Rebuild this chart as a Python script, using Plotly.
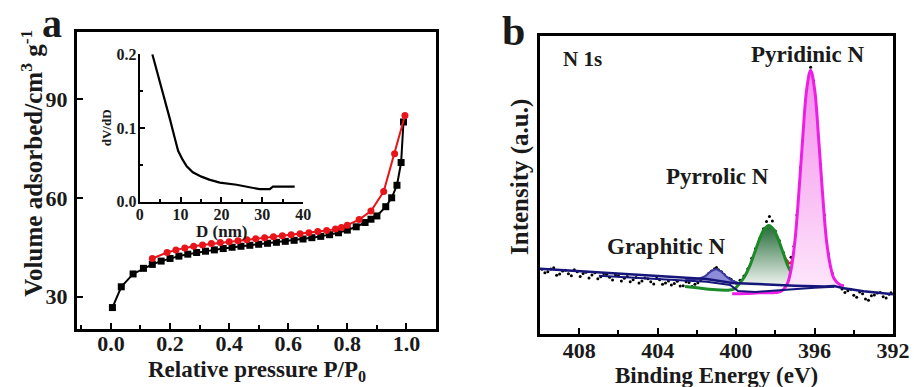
import plotly.graph_objects as go

# ---------------- Panel a: N2 isotherm ----------------
ads_p = [0.005, 0.035, 0.075, 0.11, 0.14, 0.17, 0.20, 0.23, 0.26, 0.29, 0.32, 0.35, 0.38, 0.41,
         0.44, 0.47, 0.50, 0.53, 0.56, 0.59, 0.62, 0.65, 0.68, 0.71, 0.74, 0.77, 0.80, 0.83,
         0.86, 0.88, 0.90, 0.93, 0.95, 0.968, 0.982, 0.99]
ads_v = [26.7, 33.0, 36.9, 38.6, 39.8, 40.8, 41.6, 42.3, 42.9, 43.4, 43.8, 44.2, 44.6, 45.0,
         45.3, 45.6, 45.9, 46.2, 46.5, 46.8, 47.1, 47.5, 47.9, 48.3, 48.8, 49.4, 50.2, 51.2,
         52.5, 53.5, 54.5, 57.3, 60.0, 63.8, 70.7, 83.0]
des_p = [0.995, 0.96, 0.923, 0.88, 0.84, 0.80, 0.78, 0.76, 0.73, 0.70, 0.67, 0.64, 0.61, 0.58,
         0.55, 0.52, 0.49, 0.46, 0.43, 0.40, 0.37, 0.34, 0.31, 0.28, 0.25, 0.22, 0.19, 0.14]
des_v = [85.0, 73.4, 61.9, 56.0, 53.4, 51.7, 51.0, 50.5, 50.1, 49.8, 49.4, 49.1, 48.8, 48.5,
         48.2, 47.9, 47.6, 47.3, 47.0, 46.7, 46.4, 46.1, 45.7, 45.3, 44.8, 44.2, 43.4, 41.6]

# inset: pore size distribution
psd_d = [3.1, 4.5, 5.8, 7.4, 8.5, 9.4, 10.5, 11.5, 13.0, 15.1, 17.0, 19.6, 23.7, 27.0, 29.3, 31.8, 32.6, 35.0, 37.9]
psd_v = [0.200, 0.172, 0.144, 0.112, 0.088, 0.069, 0.057, 0.048, 0.040, 0.034, 0.030, 0.026, 0.023, 0.020,
         0.017, 0.017, 0.0206, 0.0206, 0.0206]

# ---------------- Panel b: N 1s XPS ----------------
raw_be = [409.9, 409.75, 409.6, 409.45, 409.3, 409.15, 409.0, 408.85, 408.7, 408.55, 408.4, 408.25,
          408.1, 407.95, 407.8, 407.65, 407.5, 407.35, 407.2, 407.05, 406.9, 406.75, 406.6, 406.45,
          406.3, 406.15, 406.0, 405.85, 405.7, 405.55, 405.4, 405.25, 405.1, 404.95, 404.8, 404.65,
          404.5, 404.35, 404.2, 404.05, 403.9, 403.75, 403.6, 403.45, 403.3, 403.15, 403.0, 402.85,
          402.7, 402.55, 402.4, 402.25, 402.1, 401.95, 401.8, 401.65, 401.5, 401.4, 401.25, 401.1,
          401.0, 400.9, 400.75, 400.6, 400.5, 400.35, 400.25, 400.1, 400.0, 399.9, 399.8, 399.6,
          399.4, 399.2, 399.0, 398.8, 398.6, 398.45, 398.3, 398.15, 398.0, 397.8, 397.6, 397.4,
          397.2, 397.05, 396.9, 396.7, 396.5, 396.35, 396.2, 396.05, 395.9, 395.7, 395.5, 395.3,
          395.1, 394.9, 394.75, 394.6, 394.45, 394.3, 394.15, 394.0, 393.85, 393.7, 393.55, 393.4,
          393.25, 393.1, 392.95, 392.8, 392.65, 392.5, 392.35, 392.2, 392.1]
raw_int = [21.8, 20.6, 21.0, 21.9, 22.3, 19.8, 20.2, 21.2, 21.5, 20.3, 19.6, 21.6,
           21.0, 19.4, 20.4, 20.8, 18.9, 19.9, 20.6, 18.6, 19.3, 20.4, 20.1, 19.1,
           18.2, 20.0, 19.6, 17.9, 18.8, 19.4, 17.6, 18.3, 19.0, 17.2, 17.9, 18.9,
           18.6, 17.6, 16.9, 18.8, 18.3, 16.8, 17.2, 17.9, 16.5, 17.0, 17.8, 16.2,
           16.3, 17.6, 17.4, 16.0, 16.8, 17.3, 18.2, 18.7, 19.3, 20.4, 21.2, 22.0,
           22.4, 21.6, 21.0, 20.0, 19.0, 18.8, 18.4, 17.6, 17.2, 17.0, 18.1, 19.5,
           22.0, 25.5, 28.8, 32.0, 35.4, 37.8, 39.5, 38.0, 34.6, 31.4, 27.5, 24.6,
           25.8, 29.5, 40.0, 56.0, 72.0, 84.0, 89.5, 85.0, 74.0, 57.0, 40.0, 27.0,
           20.5, 17.0, 16.2, 15.2, 14.0, 14.6, 15.1, 13.1, 12.4, 14.2, 13.6, 11.8,
           11.4, 12.9, 13.2, 13.8, 14.0, 12.6, 12.2, 13.4, 13.9]

pyridinic_be = [400.2, 399.5, 398.8, 398.0, 397.7, 397.4, 397.2, 397.0, 396.8, 396.6, 396.4, 396.2,
                396.0, 395.8, 395.6, 395.4, 395.2, 395.0, 394.7, 394.5]
pyridinic_int = [13.6, 13.7, 13.9, 14.0, 14.4, 16.8, 21.6, 31.3, 47.4, 66.0, 82.1, 88.5,
                 82.3, 66.4, 48.0, 32.0, 23.2, 18.6, 16.6, 16.3]

pyrrolic_be = [402.6, 402.0, 401.2, 400.4, 400.08, 399.83, 399.58, 399.33, 399.08, 398.83, 398.58,
               398.33, 398.08, 397.83, 397.58, 397.33, 397.08, 396.83, 396.6]
pyrrolic_int = [16.0, 15.6, 15.0, 14.8, 15.2, 17.0, 19.2, 22.5, 26.9, 31.5, 35.1,
                36.5, 35.1, 31.5, 26.9, 22.5, 19.3, 17.2, 16.3]

graphitic_be = [402.6, 402.0, 401.6, 401.3, 401.05, 400.8, 400.5, 400.2, 399.8]
graphitic_int = [18.6, 18.5, 19.4, 21.0, 21.8, 21.2, 19.4, 18.0, 17.0]

envelope_be = [397.9, 397.6, 397.4, 397.25, 397.1, 396.95]
envelope_int = [30.5, 27.0, 24.5, 23.8, 25.5, 30.0]

bgA_be = [410.0, 408.0, 406.0, 403.0, 401.5, 400.2, 399.0, 397.0, 395.5, 395.0, 394.5, 393.5, 392.0]
bgA_int = [22.0, 21.2, 20.3, 19.0, 18.5, 17.2, 16.8, 16.3, 16.0, 16.2, 15.4, 14.4, 13.4]
bgB_be = [407.0, 405.0, 403.0, 401.5, 400.3, 399.9, 399.0, 398.2, 397.0, 396.0, 395.0]
bgB_int = [19.6, 18.9, 18.0, 17.6, 16.5, 14.5, 14.2, 14.6, 15.2, 15.6, 15.9]

FONT = "Liberation Serif"
TXT = "#1a1a1a"

fig = go.Figure()

# panel a
fig.add_trace(go.Scatter(x=ads_p, y=ads_v, mode="lines+markers",
                         line=dict(color="black", width=2),
                         marker=dict(symbol="square", size=7, color="black"),
                         xaxis="x", yaxis="y", showlegend=False))
fig.add_trace(go.Scatter(x=des_p, y=des_v, mode="lines+markers",
                         line=dict(color="#e8141a", width=2),
                         marker=dict(symbol="circle", size=7, color="#e8141a"),
                         xaxis="x", yaxis="y", showlegend=False))
fig.add_trace(go.Scatter(x=psd_d, y=psd_v, mode="lines",
                         line=dict(color="black", width=2.2),
                         xaxis="x2", yaxis="y2", showlegend=False, cliponaxis=False))

# panel b
fig.add_trace(go.Scatter(x=raw_be, y=raw_int, mode="markers",
                         marker=dict(size=3, color="black"),
                         xaxis="x3", yaxis="y3", showlegend=False))
fig.add_trace(go.Scatter(x=envelope_be, y=envelope_int, mode="lines",
                         line=dict(color="#e02020", width=2.5, shape="spline"),
                         xaxis="x3", yaxis="y3", showlegend=False))
fig.add_trace(go.Scatter(x=graphitic_be, y=graphitic_int, mode="lines", fill="toself",
                         fillcolor="#8c8cd8",
                         line=dict(color="#3a3aa0", width=2, shape="spline"),
                         xaxis="x3", yaxis="y3", showlegend=False))
fig.add_trace(go.Scatter(x=pyrrolic_be, y=pyrrolic_int, mode="lines", fill="toself",
                         fillgradient=dict(type="vertical",
                                           colorscale=[[0, "#ffffff"], [1, "#246b38"]]),
                         line=dict(color="#1d8a2a", width=3, shape="spline"),
                         xaxis="x3", yaxis="y3", showlegend=False))
fig.add_trace(go.Scatter(x=pyridinic_be, y=pyridinic_int, mode="lines", fill="toself",
                         fillgradient=dict(type="vertical",
                                           colorscale=[[0, "#fde8fb"], [1, "#f48cec"]]),
                         line=dict(color="#ee1ee6", width=3, shape="spline"),
                         xaxis="x3", yaxis="y3", showlegend=False))
fig.add_trace(go.Scatter(x=bgA_be, y=bgA_int, mode="lines",
                         line=dict(color="#16167a", width=2.5),
                         xaxis="x3", yaxis="y3", showlegend=False))
fig.add_trace(go.Scatter(x=bgB_be, y=bgB_int, mode="lines",
                         line=dict(color="#16167a", width=2),
                         xaxis="x3", yaxis="y3", showlegend=False))

axis_common = dict(showline=True, linecolor="black", showgrid=False, zeroline=False,
                   ticks="inside", tickcolor="black", automargin=False,
                   tickfont=dict(family=FONT, size=22, color=TXT, weight="bold"))
inset_common = dict(showline=True, linecolor="black", showgrid=False, zeroline=False,
                    ticks="inside", tickcolor="black", automargin=False,
                    tickfont=dict(family=FONT, size=16, color=TXT, weight="bold"))

fig.update_layout(
    width=914, height=387, autosize=False,
    margin=dict(l=0, r=0, t=0, b=0, pad=0, autoexpand=False),
    showlegend=False,
    paper_bgcolor="white", plot_bgcolor="rgba(0,0,0,0)",
    xaxis=dict(domain=[0.0842, 0.4770], anchor="y", range=[-0.115, 1.10], linewidth=3, mirror=True,
               tickvals=[0, 0.2, 0.4, 0.6, 0.8, 1.0], ticktext=["0.0", "0.2", "0.4", "0.6", "0.8", "1.0"],
               ticklen=6, tickwidth=2, ticklabelstandoff=-7,
               minor=dict(tickvals=[-0.1, 0.1, 0.3, 0.5, 0.7, 0.9, 1.1], ticks="inside", ticklen=4,
                          tickwidth=2, tickcolor="black"),
               **axis_common),
    yaxis=dict(domain=[0.1499, 0.9173], anchor="x", range=[20.2, 110.3], linewidth=3, mirror=True,
               tickvals=[30, 60, 90], ticklen=6, tickwidth=2, ticklabelstandoff=2, **axis_common),
    xaxis2=dict(domain=[0.1528, 0.3318], anchor="y2", range=[0, 40], linewidth=2,
                tickvals=[0, 10, 20, 30, 40], ticklen=5, tickwidth=1.5, ticklabelstandoff=-3,
                minor=dict(tickvals=[5, 15, 25, 35], ticks="inside", ticklen=3, tickwidth=1.5,
                           tickcolor="black"),
                **inset_common),
    yaxis2=dict(domain=[0.4788, 0.8597], anchor="x2", range=[0, 0.2], linewidth=2,
                tickvals=[0, 0.1, 0.2], ticktext=["0.0", "0.1", "0.2"], ticklen=5, tickwidth=1.5,
                ticklabelstandoff=-2,
                minor=dict(tickvals=[0.05, 0.15], ticks="inside", ticklen=3, tickwidth=1.5,
                           tickcolor="black"),
                **inset_common),
    xaxis3=dict(domain=[0.5908, 0.9770], anchor="y3", range=[410, 392], linewidth=3, mirror=True,
                tickvals=[408, 404, 400, 396, 392], ticklen=6, tickwidth=2, ticklabelstandoff=-6,
                minor=dict(tickvals=[406, 402, 398, 394], ticks="inside", ticklen=4, tickwidth=2,
                           tickcolor="black"),
                **axis_common),
    yaxis3=dict(domain=[0.1362, 0.9070], anchor="x3", range=[0, 100], linewidth=3, mirror=True,
                showline=True, linecolor="black", showgrid=False, zeroline=False, automargin=False,
                showticklabels=False, ticks=""),
)

def ann(text, x, y, size, angle=0, weight="bold"):
    fig.add_annotation(text=text, x=x, y=y, xref="paper", yref="paper", showarrow=False,
                       xanchor="center", yanchor="middle", textangle=angle,
                       font=dict(family=FONT, size=size, color=TXT, weight=weight))

ann("a", 0.0569, 0.940, 40)
ann("b", 0.5613, 0.920, 42)
ann("Relative pressure P/P<sub>0</sub>", 0.2808, 0.042, 23)
ann("Volume adsorbed/cm<sup>3</sup> g<sup>-1</sup>", 0.0347, 0.579, 25, angle=-90)
ann("D (nm)", 0.2425, 0.402, 17)
ann("dV/dD", 0.1160, 0.6685, 13, angle=-90)
ann("Binding Energy (eV)", 0.7834, 0.029, 23)
ann("Intensity (a.u.)", 0.5689, 0.5426, 25, angle=-90)
ann("N 1s", 0.6373, 0.8467, 21)
ann("Pyridinic N", 0.884, 0.858, 23)
ann("Pyrrolic N", 0.7845, 0.5434, 23)
ann("Graphitic N", 0.7294, 0.3643, 23)

fig.write_html("out.html", config={"displayModeBar": False},
               post_script="document.body.style.margin='0';document.body.style.overflow='hidden';")
